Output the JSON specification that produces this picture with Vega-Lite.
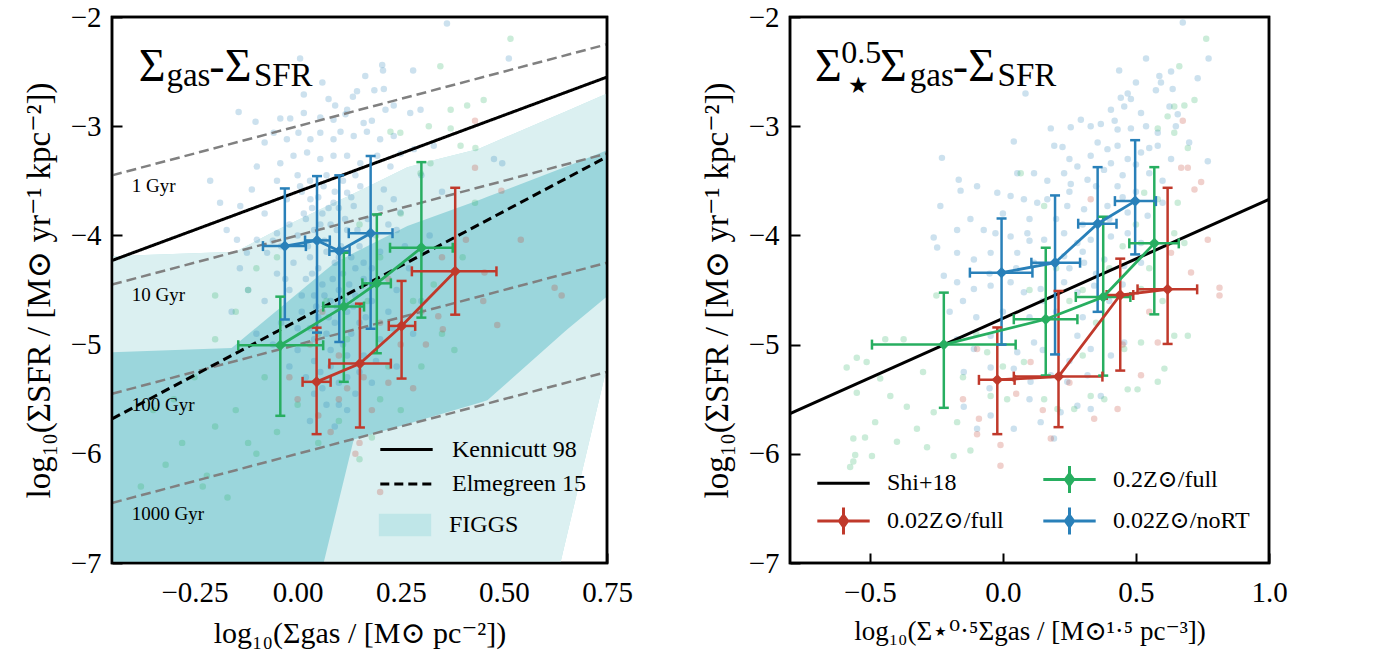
{
"$schema": "https://vega.github.io/schema/vega-lite/v6.json",
"background": "white",
"padding": {"left": 21, "top": 1, "right": 5, "bottom": 5},
"bounds": "flush",
"spacing": 183,
"config": {
  "font": "Liberation Serif",
  "view": {"stroke": "black", "strokeWidth": 2.5},
  "axis": {"domain": false, "grid": false, "tickColor": "black", "tickWidth": 2, "tickSize": -10, "labelFontSize": 29, "labelColor": "black", "labelFont": "Liberation Serif, DejaVu Serif", "titleFont": "Liberation Serif, DejaVu Serif", "titleFontWeight": "normal", "titleColor": "black", "zindex": 1, "labelFlush": false, "labelOverlap": false},
  "axisX": {"labelPadding": 25, "titlePadding": 11, "titleFontSize": 30},
  "axisY": {"labelPadding": 21, "titlePadding": 14, "titleFontSize": 33},
  "legend": {"labelFont": "Liberation Serif, DejaVu Serif", "labelFontSize": 24, "labelColor": "black", "padding": 0}
},
"resolve": {"scale": {"x": "independent", "y": "independent", "color": "independent", "fill": "independent", "strokeDash": "independent"}, "legend": {"color": "independent", "fill": "independent", "strokeDash": "independent"}, "axis": {"x": "independent", "y": "independent"}},
"datasets": {
  "figL": [
    {"x": -0.45, "top": -4.19, "bot": -7}, {"x": -0.15, "top": -4.15, "bot": -7}, {"x": -0.05, "top": -3.95, "bot": -7},
    {"x": 0.05, "top": -3.77, "bot": -7}, {"x": 0.15, "top": -3.59, "bot": -7}, {"x": 0.266, "top": -3.377, "bot": -7},
    {"x": 0.341, "top": -3.30, "bot": -7}, {"x": 0.438, "top": -3.208, "bot": -7}, {"x": 0.637, "top": -2.886, "bot": -7},
    {"x": 0.647, "top": -2.87, "bot": -6.84}, {"x": 0.75, "top": -2.70, "bot": -5.2}
  ],
  "figD": [
    {"x": -0.45, "top": -5.07, "bot": -7}, {"x": -0.16, "top": -5.03, "bot": -7}, {"x": 0.063, "top": -4.334, "bot": -7},
    {"x": 0.09, "top": -4.25, "bot": -6.582}, {"x": 0.136, "top": -4.162, "bot": -5.87}, {"x": 0.266, "top": -3.914, "bot": -5.726},
    {"x": 0.445, "top": -3.668, "bot": -5.527}, {"x": 0.46, "top": -3.646, "bot": -5.51}, {"x": 0.647, "top": -3.377, "bot": -4.883},
    {"x": 0.654, "top": -3.366, "bot": -4.86}, {"x": 0.75, "top": -3.22, "bot": -4.56}
  ],
  "depl": [
    {"t": "1 Gyr", "x": -0.45, "y": -3.45}, {"t": "1 Gyr", "x": 0.75, "y": -2.25},
    {"t": "10 Gyr", "x": -0.45, "y": -4.45}, {"t": "10 Gyr", "x": 0.75, "y": -3.25},
    {"t": "100 Gyr", "x": -0.45, "y": -5.45}, {"t": "100 Gyr", "x": 0.75, "y": -4.25},
    {"t": "1000 Gyr", "x": -0.45, "y": -6.45}, {"t": "1000 Gyr", "x": 0.75, "y": -5.25}
  ],
  "deplLab": [
    {"t": "1 Gyr", "x": -0.402, "y": -3.604}, {"t": "10 Gyr", "x": -0.402, "y": -4.604},
    {"t": "100 Gyr", "x": -0.402, "y": -5.604}, {"t": "1000 Gyr", "x": -0.402, "y": -6.604}
  ],
  "refL": [
    {"name": "Kennicutt 98", "x": -0.45, "y": -4.23}, {"name": "Kennicutt 98", "x": 0.75, "y": -2.55},
    {"name": "Elmegreen 15", "x": -0.45, "y": -5.68}, {"name": "Elmegreen 15", "x": 0.75, "y": -3.28}
  ],
  "shi": [{"x": -0.8, "y": -5.632}, {"x": 1.0, "y": -3.67}],
  "ebL": [
    {"s": "b", "x": -0.031, "y": -4.098, "xlo": -0.084, "xhi": 0.020, "ylo": -4.77, "yhi": -3.57},
    {"s": "b", "x": 0.047, "y": -4.046, "xlo": 0.018, "xhi": 0.078, "ylo": -4.89, "yhi": -3.457},
    {"s": "b", "x": 0.101, "y": -4.143, "xlo": 0.077, "xhi": 0.126, "ylo": -4.976, "yhi": -3.45},
    {"s": "b", "x": 0.177, "y": -3.98, "xlo": 0.124, "xhi": 0.23, "ylo": -4.854, "yhi": -3.274},
    {"s": "g", "x": -0.042, "y": -5.006, "xlo": -0.144, "xhi": 0.062, "ylo": -5.652, "yhi": -4.561},
    {"s": "g", "x": 0.112, "y": -4.652, "xlo": 0.062, "xhi": 0.161, "ylo": -5.341, "yhi": -4.159},
    {"s": "g", "x": 0.192, "y": -4.439, "xlo": 0.157, "xhi": 0.226, "ylo": -5.079, "yhi": -3.808},
    {"s": "g", "x": 0.30, "y": -4.113, "xlo": 0.224, "xhi": 0.376, "ylo": -4.753, "yhi": -3.329},
    {"s": "r", "x": 0.046, "y": -5.341, "xlo": 0.012, "xhi": 0.080, "ylo": -5.82, "yhi": -4.845},
    {"s": "r", "x": 0.151, "y": -5.174, "xlo": 0.077, "xhi": 0.226, "ylo": -5.759, "yhi": -4.625},
    {"s": "r", "x": 0.252, "y": -4.829, "xlo": 0.221, "xhi": 0.285, "ylo": -5.311, "yhi": -4.417},
    {"s": "r", "x": 0.382, "y": -4.329, "xlo": 0.277, "xhi": 0.482, "ylo": -4.726, "yhi": -3.564}
  ],
  "ebR": [
    {"s": "0.02Z⊙/noRT", "x": -0.005, "y": -4.341, "xlo": -0.124, "xhi": 0.111, "ylo": -5.0, "yhi": -3.845},
    {"s": "0.02Z⊙/noRT", "x": 0.196, "y": -4.25, "xlo": 0.107, "xhi": 0.29, "ylo": -5.09, "yhi": -3.634},
    {"s": "0.02Z⊙/noRT", "x": 0.356, "y": -3.893, "xlo": 0.283, "xhi": 0.427, "ylo": -4.70, "yhi": -3.375},
    {"s": "0.02Z⊙/noRT", "x": 0.497, "y": -3.686, "xlo": 0.421, "xhi": 0.575, "ylo": -4.174, "yhi": -3.128},
    {"s": "0.2Z⊙/full", "x": -0.222, "y": -5.0, "xlo": -0.492, "xhi": 0.048, "ylo": -5.579, "yhi": -4.524},
    {"s": "0.2Z⊙/full", "x": 0.161, "y": -4.768, "xlo": 0.041, "xhi": 0.28, "ylo": -5.284, "yhi": -4.113},
    {"s": "0.2Z⊙/full", "x": 0.377, "y": -4.564, "xlo": 0.274, "xhi": 0.479, "ylo": -5.284, "yhi": -3.829},
    {"s": "0.2Z⊙/full", "x": 0.569, "y": -4.073, "xlo": 0.475, "xhi": 0.661, "ylo": -4.723, "yhi": -3.375},
    {"s": "0.02Z⊙/full", "x": -0.021, "y": -5.323, "xlo": -0.09, "xhi": 0.044, "ylo": -5.82, "yhi": -4.843},
    {"s": "0.02Z⊙/full", "x": 0.209, "y": -5.293, "xlo": 0.041, "xhi": 0.374, "ylo": -5.756, "yhi": -4.509},
    {"s": "0.02Z⊙/full", "x": 0.441, "y": -4.546, "xlo": 0.39, "xhi": 0.49, "ylo": -5.238, "yhi": -4.213},
    {"s": "0.02Z⊙/full", "x": 0.619, "y": -4.494, "xlo": 0.506, "xhi": 0.73, "ylo": -4.994, "yhi": -3.564}
  ],
  "ptsL": [
    {"s":"b","x":0.362,"y":-2.06},{"s":"b","x":0.006,"y":-2.38},{"s":"b","x":0.205,"y":-2.44},{"s":"b","x":0.207,"y":-2.49},{"s":"b","x":0.28,"y":-2.49},{"s":"b","x":0.164,"y":-2.54},{"s":"b","x":0.512,"y":-2.38},{"s":"b","x":0.075,"y":-2.75},{"s":"b","x":0.091,"y":-2.81},{"s":"b","x":0.144,"y":-2.68},{"s":"b","x":0.186,"y":-2.67},{"s":"b","x":0.209,"y":-2.66},{"s":"b","x":0.134,"y":-2.73},{"s":"b","x":0.015,"y":-2.71},{"s":"b","x":-0.143,"y":-2.87},{"s":"b","x":-0.102,"y":-2.96},{"s":"b","x":-0.042,"y":-2.93},{"s":"b","x":-0.018,"y":-2.93},{"s":"b","x":0.015,"y":-2.88},{"s":"b","x":0.055,"y":-2.92},{"s":"b","x":0.087,"y":-2.94},{"s":"b","x":0.116,"y":-2.89},{"s":"b","x":0.16,"y":-2.97},{"s":"b","x":0.213,"y":-2.85},{"s":"b","x":0.233,"y":-2.81},{"s":"b","x":0.273,"y":-2.88},{"s":"b","x":0.298,"y":-2.85},{"s":"b","x":-0.058,"y":-3.06},{"s":"b","x":-0.026,"y":-3.12},{"s":"b","x":0.002,"y":-3.06},{"s":"b","x":0.031,"y":-3.12},{"s":"b","x":0.055,"y":-3.06},{"s":"b","x":0.087,"y":-3.12},{"s":"b","x":0.104,"y":-3.05},{"s":"b","x":0.136,"y":-3.09},{"s":"b","x":0.168,"y":-3.05},{"s":"b","x":0.2,"y":-3.12},{"s":"b","x":0.233,"y":-3.09},{"s":"b","x":0.282,"y":-3.21},{"s":"b","x":0.33,"y":-3.18},{"s":"b","x":-0.212,"y":-3.5},{"s":"b","x":-0.188,"y":-3.7},{"s":"b","x":-0.139,"y":-3.73},{"s":"b","x":-0.111,"y":-3.58},{"s":"b","x":-0.099,"y":-3.37},{"s":"b","x":-0.042,"y":-3.34},{"s":"b","x":-0.01,"y":-3.27},{"s":"b","x":0.023,"y":-3.24},{"s":"b","x":0.055,"y":-3.3},{"s":"b","x":0.087,"y":-3.27},{"s":"b","x":0.12,"y":-3.27},{"s":"b","x":0.152,"y":-3.34},{"s":"b","x":0.193,"y":-3.27},{"s":"b","x":0.225,"y":-3.37},{"s":"b","x":0.476,"y":-3.3},{"s":"b","x":0.496,"y":-3.34},{"s":"b","x":-0.172,"y":-3.95},{"s":"b","x":-0.147,"y":-4.04},{"s":"b","x":-0.123,"y":-4.16},{"s":"b","x":-0.099,"y":-4.04},{"s":"b","x":-0.074,"y":-4.16},{"s":"b","x":-0.05,"y":-3.98},{"s":"b","x":-0.026,"y":-3.67},{"s":"b","x":0.006,"y":-3.55},{"s":"b","x":0.031,"y":-3.67},{"s":"b","x":0.063,"y":-3.55},{"s":"b","x":0.087,"y":-3.7},{"s":"b","x":0.12,"y":-3.61},{"s":"b","x":0.136,"y":-3.73},{"s":"b","x":0.152,"y":-3.55},{"s":"b","x":0.209,"y":-3.58},{"s":"b","x":0.233,"y":-3.67},{"s":"b","x":0.249,"y":-3.79},
    {"s":"b","x":0.02,"y":-3.85},{"s":"b","x":0.04,"y":-3.95},{"s":"b","x":0.06,"y":-3.8},{"s":"b","x":0.08,"y":-3.9},{"s":"b","x":0.1,"y":-3.75},{"s":"b","x":0.12,"y":-3.95},{"s":"b","x":0.0,"y":-4.0},{"s":"b","x":0.03,"y":-4.2},{"s":"b","x":0.05,"y":-4.3},{"s":"b","x":0.07,"y":-4.15},{"s":"b","x":0.09,"y":-4.25},{"s":"b","x":0.11,"y":-4.35},{"s":"b","x":0.13,"y":-4.2},{"s":"b","x":0.15,"y":-4.1},{"s":"b","x":0.02,"y":-4.4},{"s":"b","x":0.04,"y":-4.55},{"s":"b","x":0.06,"y":-4.45},{"s":"b","x":0.08,"y":-4.6},{"s":"b","x":0.1,"y":-4.5},{"s":"b","x":0.12,"y":-4.7},{"s":"b","x":0.14,"y":-4.55},{"s":"b","x":0.16,"y":-4.4},{"s":"b","x":0.18,"y":-4.6},{"s":"b","x":0.01,"y":-4.7},{"s":"b","x":0.03,"y":-4.85},{"s":"b","x":0.05,"y":-4.75},{"s":"b","x":0.07,"y":-4.9},{"s":"b","x":0.09,"y":-4.8},{"s":"b","x":0.11,"y":-5.0},{"s":"b","x":0.13,"y":-4.9},{"s":"b","x":0.15,"y":-4.8},{"s":"b","x":-0.02,"y":-4.5},{"s":"b","x":-0.05,"y":-4.35},{"s":"b","x":-0.08,"y":-4.6},{"s":"b","x":0.0,"y":-5.05},{"s":"b","x":0.04,"y":-5.15},{"s":"b","x":0.08,"y":-5.2},{"s":"b","x":0.12,"y":-5.3},{"s":"b","x":0.16,"y":-5.1},{"s":"b","x":0.2,"y":-4.95},{"s":"b","x":0.22,"y":-4.7},{"s":"b","x":0.18,"y":-4.3},{"s":"b","x":0.2,"y":-4.15},{"s":"b","x":0.24,"y":-4.5},{"s":"b","x":-0.04,"y":-4.8},{"s":"b","x":0.06,"y":-5.4},{"s":"b","x":0.1,"y":-5.55},{"s":"b","x":0.14,"y":-5.45},{"s":"b","x":0.02,"y":-5.3},{"s":"b","x":-0.02,"y":-5.2},{"s":"b","x":0.18,"y":-5.35},{"s":"b","x":0.24,"y":-5.2},{"s":"b","x":0.28,"y":-4.9},{"s":"b","x":0.3,"y":-4.6},{"s":"b","x":-0.1,"y":-4.9},{"s":"b","x":-0.12,"y":-4.5},{"s":"b","x":0.03,"y":-5.7},{"s":"b","x":0.09,"y":-5.75},{"s":"b","x":0.01,"y":-3.6},{"s":"b","x":0.035,"y":-3.75},{"s":"b","x":0.065,"y":-4.05},{"s":"b","x":0.085,"y":-4.4},{"s":"b","x":0.105,"y":-4.1},{"s":"b","x":0.125,"y":-4.45},{"s":"b","x":0.045,"y":-4.65},{"s":"b","x":0.075,"y":-4.75},{"s":"b","x":0.095,"y":-3.95},{"s":"b","x":0.115,"y":-4.6},{"s":"b","x":-0.01,"y":-4.25},{"s":"b","x":0.17,"y":-3.85},{"s":"b","x":0.19,"y":-4.0},{"s":"b","x":0.26,"y":-4.1},{"s":"b","x":0.22,"y":-3.9},
    {"s":"b","x":0.0,"y":-3.45},{"s":"b","x":0.03,"y":-3.5},{"s":"b","x":0.07,"y":-3.45},{"s":"b","x":0.11,"y":-3.5},{"s":"b","x":0.14,"y":-3.45},{"s":"b","x":0.05,"y":-3.65},{"s":"b","x":0.09,"y":-3.6},{"s":"b","x":0.13,"y":-3.65},{"s":"b","x":0.015,"y":-3.8},{"s":"b","x":0.055,"y":-3.9},{"s":"b","x":0.075,"y":-3.75},{"s":"b","x":0.115,"y":-3.85},{"s":"b","x":0.145,"y":-3.95},{"s":"b","x":-0.02,"y":-3.9},{"s":"b","x":-0.04,"y":-4.1},{"s":"b","x":0.025,"y":-4.1},{"s":"b","x":0.045,"y":-4.05},{"s":"b","x":0.1,"y":-4.2},{"s":"b","x":0.14,"y":-4.3},{"s":"b","x":0.16,"y":-4.25},{"s":"b","x":-0.03,"y":-4.4},{"s":"b","x":0.01,"y":-4.55},{"s":"b","x":0.035,"y":-4.35},{"s":"b","x":0.065,"y":-4.55},{"s":"b","x":0.095,"y":-4.65},{"s":"b","x":0.135,"y":-4.65},{"s":"b","x":0.165,"y":-4.75},{"s":"b","x":0.0,"y":-4.85},{"s":"b","x":0.04,"y":-4.95},{"s":"b","x":0.08,"y":-5.05},{"s":"b","x":0.12,"y":-5.1},{"s":"b","x":0.055,"y":-5.25},{"s":"b","x":0.1,"y":-5.35},{"s":"b","x":0.15,"y":-5.25},{"s":"b","x":0.19,"y":-5.15},{"s":"b","x":-0.06,"y":-4.05},{"s":"b","x":-0.08,"y":-3.8},{"s":"b","x":-0.14,"y":-4.3},{"s":"b","x":-0.16,"y":-4.7},{"s":"b","x":0.2,"y":-3.75},{"s":"b","x":0.24,"y":-3.95},{"s":"b","x":0.27,"y":-4.3},{"s":"b","x":0.19,"y":-4.45},{"s":"b","x":0.23,"y":-4.85},{"s":"b","x":-0.06,"y":-5.0},{"s":"b","x":0.07,"y":-5.55},{"s":"b","x":0.04,"y":-5.45},{"s":"b","x":0.12,"y":-5.6},{"s":"b","x":-0.05,"y":-3.5},{"s":"b","x":-0.08,"y":-3.15},{"s":"b","x":0.06,"y":-2.6},{"s":"b","x":0.12,"y":-2.85},{"s":"b","x":0.18,"y":-2.95},{"s":"b","x":0.25,"y":-3.25},{"s":"b","x":0.3,"y":-3.45},{"s":"b","x":0.35,"y":-3.6},{"s":"b","x":0.32,"y":-4.0},
    {"s":"g","x":0.516,"y":-2.2},{"s":"g","x":0.346,"y":-2.45},{"s":"g","x":0.451,"y":-2.76},{"s":"g","x":0.411,"y":-2.81},{"s":"g","x":0.371,"y":-2.85},{"s":"g","x":0.371,"y":-3.02},{"s":"g","x":0.395,"y":-3.18},{"s":"g","x":0.431,"y":-3.2},{"s":"g","x":0.318,"y":-3.0},{"s":"g","x":0.249,"y":-3.06},{"s":"g","x":0.225,"y":-3.05},{"s":"g","x":0.298,"y":-3.43},{"s":"g","x":0.322,"y":-3.34},{"s":"g","x":-0.3,"y":-5.5},{"s":"g","x":-0.25,"y":-5.3},{"s":"g","x":-0.2,"y":-4.95},{"s":"g","x":-0.35,"y":-5.6},{"s":"g","x":-0.32,"y":-6.1},{"s":"g","x":-0.28,"y":-5.9},{"s":"g","x":-0.22,"y":-6.2},{"s":"g","x":-0.2,"y":-5.75},{"s":"g","x":-0.15,"y":-5.6},{"s":"g","x":-0.12,"y":-5.9},{"s":"g","x":-0.1,"y":-6.0},{"s":"g","x":-0.05,"y":-5.8},{"s":"g","x":-0.08,"y":-5.3},{"s":"g","x":-0.15,"y":-4.7},{"s":"g","x":-0.12,"y":-4.5},{"s":"g","x":-0.2,"y":-4.55},{"s":"g","x":-0.1,"y":-4.3},{"s":"g","x":0.0,"y":-5.55},{"s":"g","x":0.05,"y":-5.9},{"s":"g","x":0.1,"y":-5.7},{"s":"g","x":0.15,"y":-6.05},{"s":"g","x":0.2,"y":-5.5},{"s":"g","x":0.18,"y":-5.85},{"s":"g","x":0.25,"y":-5.6},{"s":"g","x":0.22,"y":-5.2},{"s":"g","x":0.3,"y":-5.2},{"s":"g","x":0.28,"y":-4.6},{"s":"g","x":0.33,"y":-4.45},{"s":"g","x":0.35,"y":-4.9},{"s":"g","x":0.38,"y":-5.05},{"s":"g","x":0.4,"y":-4.2},{"s":"g","x":0.43,"y":-3.7},{"s":"g","x":0.2,"y":-4.2},{"s":"g","x":0.15,"y":-3.9},{"s":"g","x":0.25,"y":-3.8},{"s":"g","x":0.05,"y":-4.9},{"s":"g","x":-0.05,"y":-4.2},{"s":"g","x":-0.23,"y":-6.3},{"s":"g","x":0.07,"y":-4.6},{"s":"g","x":0.12,"y":-4.95},{"s":"g","x":0.17,"y":-4.6},{"s":"g","x":-0.38,"y":-6.3},{"s":"g","x":-0.17,"y":-6.4},
    {"s":"r","x":0.43,"y":-2.95},{"s":"r","x":0.43,"y":-3.38},{"s":"r","x":0.494,"y":-3.59},{"s":"r","x":0.541,"y":-4.04},{"s":"r","x":0.623,"y":-4.48},{"s":"r","x":0.64,"y":-4.55},{"s":"r","x":0.484,"y":-4.82},{"s":"r","x":0.453,"y":-4.34},{"s":"r","x":0.408,"y":-4.04},{"s":"r","x":0.341,"y":-4.74},{"s":"r","x":0.352,"y":-4.86},{"s":"r","x":0.311,"y":-5.0},{"s":"r","x":0.05,"y":-5.65},{"s":"r","x":0.0,"y":-5.5},{"s":"r","x":0.08,"y":-5.8},{"s":"r","x":0.12,"y":-5.4},{"s":"r","x":0.15,"y":-5.9},{"s":"r","x":0.18,"y":-5.6},{"s":"r","x":0.1,"y":-5.1},{"s":"r","x":0.03,"y":-5.0},{"s":"r","x":0.22,"y":-5.35},{"s":"r","x":0.25,"y":-5.0},{"s":"r","x":0.2,"y":-4.8},{"s":"r","x":0.3,"y":-4.7},{"s":"r","x":0.28,"y":-5.4},{"s":"r","x":0.14,"y":-6.0},{"s":"r","x":0.06,"y":-4.7},{"s":"r","x":0.22,"y":-4.4},{"s":"r","x":-0.02,"y":-5.3},{"s":"r","x":0.2,"y":-6.35},{"s":"r","x":0.35,"y":-4.2},{"s":"r","x":0.45,"y":-4.6},{"s":"r","x":0.1,"y":-5.5},{"s":"r","x":0.16,"y":-5.3}
  ],
  "ptsR": [
    {"s":"b","x":0.676,"y":-2.05},{"s":"b","x":0.538,"y":-2.38},{"s":"b","x":0.437,"y":-2.49},{"s":"b","x":0.588,"y":-2.54},{"s":"b","x":0.632,"y":-2.5},{"s":"b","x":0.732,"y":-2.56},{"s":"b","x":0.773,"y":-2.38},{"s":"b","x":0.575,"y":-2.67},{"s":"b","x":0.638,"y":-2.66},{"s":"b","x":0.594,"y":-2.6},{"s":"b","x":0.469,"y":-2.7},{"s":"b","x":0.443,"y":-2.74},{"s":"b","x":0.481,"y":-2.75},{"s":"b","x":0.085,"y":-2.7},{"s":"b","x":0.406,"y":-2.85},{"s":"b","x":0.456,"y":-2.82},{"s":"b","x":0.519,"y":-2.88},{"s":"b","x":0.626,"y":-2.82},{"s":"b","x":0.657,"y":-2.89},{"s":"b","x":0.293,"y":-2.94},{"s":"b","x":0.255,"y":-3.01},{"s":"b","x":0.33,"y":-3.0},{"s":"b","x":0.368,"y":-2.98},{"s":"b","x":0.431,"y":-3.03},{"s":"b","x":0.481,"y":-3.02},{"s":"b","x":0.538,"y":-3.0},{"s":"b","x":0.582,"y":-3.06},{"s":"b","x":0.18,"y":-3.02},{"s":"b","x":0.193,"y":-3.18},{"s":"b","x":0.224,"y":-3.19},{"s":"b","x":0.356,"y":-3.15},{"s":"b","x":0.393,"y":-3.21},{"s":"b","x":0.431,"y":-3.18},{"s":"b","x":0.519,"y":-3.24},{"s":"b","x":0.582,"y":-3.18},{"s":"b","x":0.632,"y":-3.3},{"s":"b","x":0.77,"y":-3.32},{"s":"b","x":0.041,"y":-3.14},{"s":"b","x":-0.229,"y":-3.29},{"s":"b","x":0.33,"y":-3.27},{"s":"b","x":0.406,"y":-3.34},{"s":"b","x":0.469,"y":-3.3},{"s":"b","x":0.55,"y":-3.43},{"s":"b","x":0.28,"y":-3.37},{"s":"b","x":0.23,"y":-3.43},{"s":"b","x":0.117,"y":-3.43},{"s":"b","x":0.054,"y":-3.43},{"s":"b","x":0.167,"y":-3.5},{"s":"b","x":0.255,"y":-3.53},{"s":"b","x":0.318,"y":-3.49},{"s":"b","x":0.431,"y":-3.55},{"s":"b","x":-0.166,"y":-3.49},{"s":"b","x":-0.159,"y":-3.59},{"s":"b","x":-0.097,"y":-3.55},{"s":"b","x":-0.021,"y":-3.61},{"s":"b","x":0.029,"y":-3.64},{"s":"b","x":0.079,"y":-3.67},{"s":"b","x":0.129,"y":-3.7},{"s":"b","x":0.167,"y":-3.67},{"s":"b","x":0.242,"y":-3.73},{"s":"b","x":0.305,"y":-3.76},{"s":"b","x":0.393,"y":-3.73},{"s":"b","x":0.469,"y":-3.79},{"s":"b","x":0.544,"y":-3.82},{"s":"b","x":-0.235,"y":-3.73},{"s":"b","x":-0.172,"y":-3.95},{"s":"b","x":-0.122,"y":-3.85},{"s":"b","x":-0.072,"y":-3.95},{"s":"b","x":-0.028,"y":-3.98},{"s":"b","x":0.029,"y":-4.01},{"s":"b","x":0.092,"y":-3.98},{"s":"b","x":0.155,"y":-4.04},{"s":"b","x":0.23,"y":-3.98},{"s":"b","x":0.28,"y":-4.07},{"s":"b","x":0.33,"y":-4.04},{"s":"b","x":0.406,"y":-4.01},{"s":"b","x":0.469,"y":-3.98},{"s":"b","x":0.519,"y":-4.07},{"s":"b","x":-0.26,"y":-4.02},{"s":"b","x":-0.247,"y":-4.11},{"s":"b","x":-0.172,"y":-4.16},{"s":"b","x":-0.109,"y":-4.22},{"s":"b","x":-0.046,"y":-4.16},{"s":"b","x":0.054,"y":-4.16},{"s":"b","x":0.117,"y":-4.25},{"s":"b","x":0.23,"y":-4.19},{"s":"b","x":0.305,"y":-4.25},{"s":"b","x":0.381,"y":-4.22},{"s":"b","x":0.456,"y":-4.28},{"s":"b","x":0.519,"y":-4.25},{"s":"b","x":-0.222,"y":-4.37},{"s":"b","x":-0.172,"y":-4.43},{"s":"b","x":-0.109,"y":-4.49},{"s":"b","x":-0.046,"y":-4.46},{"s":"b","x":0.029,"y":-4.43},{"s":"b","x":0.079,"y":-4.52},{"s":"b","x":0.142,"y":-4.49},{"s":"b","x":0.23,"y":-4.43},{"s":"b","x":0.28,"y":-4.52},{"s":"b","x":0.343,"y":-4.46},{"s":"b","x":-0.172,"y":-4.95},{"s":"b","x":-0.109,"y":-5.04},{"s":"b","x":-0.046,"y":-4.92},{"s":"b","x":0.054,"y":-5.07},{"s":"b","x":0.117,"y":-4.98},{"s":"b","x":0.28,"y":-4.92},{"s":"b","x":0.33,"y":-5.04},{"s":"b","x":0.406,"y":-5.1},{"s":"b","x":0.456,"y":-4.98},{"s":"b","x":-0.147,"y":-5.25},{"s":"b","x":-0.046,"y":-5.21},{"s":"b","x":0.041,"y":-5.22},{"s":"b","x":0.104,"y":-5.34},{"s":"b","x":0.18,"y":-5.28},{"s":"b","x":0.242,"y":-5.34},{"s":"b","x":0.318,"y":-5.28},{"s":"b","x":0.368,"y":-5.47},{"s":"b","x":-0.147,"y":-5.57},{"s":"b","x":-0.097,"y":-5.77},{"s":"b","x":-0.046,"y":-5.65},{"s":"b","x":0.041,"y":-5.77},{"s":"b","x":0.142,"y":-5.71},{"s":"b","x":0.217,"y":-5.62},{"s":"b","x":0.28,"y":-5.56},{"s":"b","x":0.33,"y":-5.59},{"s":"b","x":0.192,"y":-5.86},{"s":"b","x":-0.2,"y":-4.7},{"s":"b","x":-0.1,"y":-4.75},{"s":"b","x":0.0,"y":-4.7},{"s":"b","x":0.1,"y":-4.75},{"s":"b","x":0.2,"y":-4.7},{"s":"b","x":0.3,"y":-4.75},{"s":"b","x":0.4,"y":-4.6},{"s":"b","x":0.35,"y":-3.55},{"s":"b","x":0.25,"y":-3.3},{"s":"b","x":0.45,"y":-3.45},{"s":"b","x":0.5,"y":-3.6},{"s":"b","x":0.6,"y":-3.5},
    {"s":"b","x":0.1,"y":-3.85},{"s":"b","x":0.2,"y":-3.85},{"s":"b","x":0.3,"y":-3.9},{"s":"b","x":0.4,"y":-3.85},{"s":"b","x":0.45,"y":-3.65},{"s":"b","x":0.38,"y":-3.4},{"s":"b","x":0.5,"y":-3.35},{"s":"b","x":0.55,"y":-3.2},{"s":"b","x":0.6,"y":-3.7},{"s":"b","x":0.15,"y":-4.6},{"s":"b","x":0.25,"y":-4.3},{"s":"b","x":0.35,"y":-4.35},{"s":"b","x":0.45,"y":-4.45},{"s":"b","x":-0.05,"y":-4.35},{"s":"b","x":0.05,"y":-4.3},{"s":"b","x":-0.15,"y":-4.6},{"s":"b","x":0.1,"y":-4.05},{"s":"b","x":0.2,"y":-4.55},{"s":"b","x":0.3,"y":-4.15},{"s":"b","x":0.0,"y":-3.8},{"s":"b","x":0.25,"y":-3.6},{"s":"b","x":0.42,"y":-2.95},{"s":"b","x":0.5,"y":-2.6},{"s":"b","x":0.65,"y":-3.0},{"s":"b","x":0.7,"y":-3.15},{"s":"b","x":-0.05,"y":-5.4},{"s":"b","x":0.1,"y":-5.5},{"s":"b","x":0.25,"y":-5.15},{"s":"b","x":0.15,"y":-5.05},
    {"s":"g","x":0.764,"y":-2.2},{"s":"g","x":0.663,"y":-2.45},{"s":"g","x":0.72,"y":-2.76},{"s":"g","x":0.644,"y":-2.82},{"s":"g","x":0.682,"y":-2.81},{"s":"g","x":0.619,"y":-2.91},{"s":"g","x":0.582,"y":-3.02},{"s":"g","x":0.644,"y":-3.06},{"s":"g","x":0.695,"y":-3.2},{"s":"g","x":-0.587,"y":-5.21},{"s":"g","x":-0.549,"y":-5.12},{"s":"g","x":-0.512,"y":-5.16},{"s":"g","x":-0.442,"y":-4.95},{"s":"g","x":-0.373,"y":-4.95},{"s":"g","x":-0.549,"y":-5.44},{"s":"g","x":-0.461,"y":-5.31},{"s":"g","x":-0.423,"y":-5.47},{"s":"g","x":-0.361,"y":-5.57},{"s":"g","x":-0.48,"y":-5.71},{"s":"g","x":-0.562,"y":-5.86},{"s":"g","x":-0.518,"y":-5.85},{"s":"g","x":-0.555,"y":-6.01},{"s":"g","x":-0.562,"y":-6.07},{"s":"g","x":-0.574,"y":-6.12},{"s":"g","x":-0.492,"y":-6.02},{"s":"g","x":-0.398,"y":-5.89},{"s":"g","x":-0.285,"y":-5.94},{"s":"g","x":-0.323,"y":-5.77},{"s":"g","x":-0.26,"y":-5.62},{"s":"g","x":-0.185,"y":-6.02},{"s":"g","x":-0.122,"y":-5.97},{"s":"g","x":-0.172,"y":-5.71},{"s":"g","x":-0.046,"y":-5.47},{"s":"g","x":0.016,"y":-5.5},{"s":"g","x":0.155,"y":-5.5},{"s":"g","x":0.205,"y":-5.59},{"s":"g","x":0.268,"y":-5.59},{"s":"g","x":0.33,"y":-5.47},{"s":"g","x":0.381,"y":-5.5},{"s":"g","x":0.469,"y":-5.41},{"s":"g","x":0.506,"y":-5.41},{"s":"g","x":0.582,"y":-5.34},{"s":"g","x":0.607,"y":-5.22},{"s":"g","x":0.695,"y":-4.92},{"s":"g","x":0.644,"y":-4.92},{"s":"g","x":0.519,"y":-4.98},{"s":"g","x":0.456,"y":-5.04},{"s":"g","x":0.079,"y":-5.16},{"s":"g","x":-0.059,"y":-5.07},{"s":"g","x":0.155,"y":-3.73},{"s":"g","x":0.067,"y":-3.43},{"s":"g","x":0.531,"y":-3.61},{"s":"g","x":0.582,"y":-3.67},{"s":"g","x":0.657,"y":-3.7},{"s":"g","x":0.519,"y":-4.49},{"s":"g","x":0.644,"y":-3.98},{"s":"g","x":0.682,"y":-4.07},{"s":"g","x":-0.3,"y":-5.25},{"s":"g","x":-0.15,"y":-5.3},{"s":"g","x":0.3,"y":-5.1},{"s":"g","x":0.25,"y":-4.6},{"s":"g","x":0.4,"y":-4.3},{"s":"g","x":-0.25,"y":-4.55},{"s":"g","x":0.2,"y":-4.3},{"s":"g","x":0.3,"y":-4.5},{"s":"g","x":0.45,"y":-4.1},{"s":"g","x":0.55,"y":-4.3},{"s":"g","x":0.6,"y":-4.6},{"s":"g","x":0.35,"y":-4.8},{"s":"g","x":0.1,"y":-4.5},{"s":"g","x":-0.1,"y":-4.9},{"s":"g","x":0.0,"y":-5.2},{"s":"g","x":0.5,"y":-3.9},
    {"s":"r","x":0.676,"y":-2.95},{"s":"r","x":0.67,"y":-3.38},{"s":"r","x":0.695,"y":-3.38},{"s":"r","x":0.72,"y":-3.58},{"s":"r","x":0.745,"y":-3.51},{"s":"r","x":0.77,"y":-4.04},{"s":"r","x":0.814,"y":-4.48},{"s":"r","x":0.814,"y":-4.55},{"s":"r","x":0.707,"y":-4.34},{"s":"r","x":0.632,"y":-4.16},{"s":"r","x":0.33,"y":-3.67},{"s":"r","x":-0.097,"y":-5.04},{"s":"r","x":-0.09,"y":-5.68},{"s":"r","x":-0.097,"y":-5.82},{"s":"r","x":-0.009,"y":-5.92},{"s":"r","x":-0.009,"y":-6.11},{"s":"r","x":0.104,"y":-5.16},{"s":"r","x":0.18,"y":-5.86},{"s":"r","x":0.343,"y":-5.68},{"s":"r","x":0.431,"y":-5.59},{"s":"r","x":0.519,"y":-5.28},{"s":"r","x":0.582,"y":-4.98},{"s":"r","x":0.05,"y":-5.45},{"s":"r","x":0.15,"y":-5.6},{"s":"r","x":0.25,"y":-5.35},{"s":"r","x":0.45,"y":-5.0},{"s":"r","x":0.55,"y":-4.7},{"s":"r","x":-0.15,"y":-5.5}
  ]
},
"hconcat": [
  {
    "width": 495, "height": 546,
    "layer": [
      {"data": {"name": "figL"}, "mark": {"type": "area", "orient": "vertical"},
       "encoding": {
         "x": {"field": "x", "type": "quantitative", "scale": {"domain": [-0.45, 0.75], "nice": false, "zero": false},
               "axis": {"values": [-0.25, 0, 0.25, 0.5, 0.75], "format": ".2f", "title": "log₁₀(Σgas / [M⊙ pc⁻²])"}},
         "y": {"field": "top", "type": "quantitative", "scale": {"domain": [-7, -2], "nice": false, "zero": false},
               "axis": {"values": [-7, -6, -5, -4, -3, -2], "format": "d", "title": "log₁₀(ΣSFR / [M⊙ yr⁻¹ kpc⁻²])"}},
         "y2": {"field": "bot"},
         "fill": {"datum": "FIGGS", "type": "nominal", "title": null, "scale": {"domain": ["FIGGS"], "range": ["#bfe6e8"]},
                  "legend": {"orient": "none", "legendX": 274, "legendY": 489, "title": null, "symbolType": "M-1.4,-0.6H1.4V0.6H-1.4Z", "symbolSize": 1400, "symbolStrokeWidth": 0, "symbolFillColor": "#bfe6e8", "symbolOpacity": 1, "labelOffset": 25,
                             "encode": {"symbols": {"update": {"fill": {"value": "#bfe6e8"}, "fillOpacity": {"value": 1}, "opacity": {"value": 1}}}}}}
       }},
      {"data": {"name": "figL"}, "mark": {"type": "area", "orient": "vertical", "color": "#dbf0f1"},
       "encoding": {"x": {"field": "x", "type": "quantitative"}, "y": {"field": "top", "type": "quantitative"}, "y2": {"field": "bot"}}},
      {"data": {"name": "figD"}, "mark": {"type": "area", "orient": "vertical", "color": "#9bd6dc"},
       "encoding": {"x": {"field": "x", "type": "quantitative"}, "y": {"field": "top", "type": "quantitative"}, "y2": {"field": "bot"}}},
      {"data": {"name": "ptsL"}, "mark": {"type": "circle", "size": 42, "opacity": 0.24},
       "encoding": {"x": {"field": "x", "type": "quantitative"}, "y": {"field": "y", "type": "quantitative"},
                    "color": {"field": "s", "type": "nominal", "scale": {"domain": ["b", "g", "r"], "range": ["#2980b9", "#27ae60", "#c0392b"]}, "legend": null}}},
      {"data": {"name": "depl"}, "mark": {"type": "line", "color": "#808080", "strokeWidth": 2.5, "strokeDash": [10, 5]},
       "encoding": {"x": {"field": "x", "type": "quantitative"}, "y": {"field": "y", "type": "quantitative"}, "detail": {"field": "t"}}},
      {"data": {"name": "refL"}, "mark": {"type": "line", "color": "black", "strokeWidth": 3},
       "encoding": {"x": {"field": "x", "type": "quantitative"}, "y": {"field": "y", "type": "quantitative"},
                    "strokeDash": {"field": "name", "type": "nominal", "title": null, "scale": {"domain": ["Kennicutt 98", "Elmegreen 15"], "range": [[1, 0], [9, 5]]},
                                   "legend": {"orient": "none", "legendX": 274, "legendY": 412, "title": null, "symbolType": "M-1.4,0H1.4", "symbolSize": 1400, "symbolStrokeWidth": 3, "symbolStrokeColor": "black", "labelOffset": 25, "rowPadding": 1.5}}}},
      {"data": {"name": "deplLab"}, "mark": {"type": "text", "align": "left", "baseline": "alphabetic", "fontSize": 19, "color": "black"},
       "encoding": {"x": {"field": "x", "type": "quantitative"}, "y": {"field": "y", "type": "quantitative"}, "text": {"field": "t"}}},
      {"data": {"name": "ebL"}, "mark": {"type": "rule", "strokeWidth": 2.5},
       "encoding": {"x": {"field": "x", "type": "quantitative"}, "y": {"field": "ylo", "type": "quantitative"}, "y2": {"field": "yhi"}, "color": {"field": "s", "type": "nominal", "legend": null}}},
      {"data": {"name": "ebL"}, "mark": {"type": "rule", "strokeWidth": 2.5},
       "encoding": {"x": {"field": "xlo", "type": "quantitative"}, "x2": {"field": "xhi"}, "y": {"field": "y", "type": "quantitative"}, "color": {"field": "s", "type": "nominal", "legend": null}}},
      {"data": {"name": "ebL"}, "mark": {"type": "tick", "orient": "horizontal", "size": 10, "thickness": 2.5, "opacity": 1},
       "encoding": {"x": {"field": "x", "type": "quantitative"}, "y": {"field": "ylo", "type": "quantitative"}, "color": {"field": "s", "type": "nominal", "legend": null}}},
      {"data": {"name": "ebL"}, "mark": {"type": "tick", "orient": "horizontal", "size": 10, "thickness": 2.5, "opacity": 1},
       "encoding": {"x": {"field": "x", "type": "quantitative"}, "y": {"field": "yhi", "type": "quantitative"}, "color": {"field": "s", "type": "nominal", "legend": null}}},
      {"data": {"name": "ebL"}, "mark": {"type": "tick", "orient": "vertical", "size": 10, "thickness": 2.5, "opacity": 1},
       "encoding": {"x": {"field": "xlo", "type": "quantitative"}, "y": {"field": "y", "type": "quantitative"}, "color": {"field": "s", "type": "nominal", "legend": null}}},
      {"data": {"name": "ebL"}, "mark": {"type": "tick", "orient": "vertical", "size": 10, "thickness": 2.5, "opacity": 1},
       "encoding": {"x": {"field": "xhi", "type": "quantitative"}, "y": {"field": "y", "type": "quantitative"}, "color": {"field": "s", "type": "nominal", "legend": null}}},
      {"data": {"name": "ebL"}, "mark": {"type": "line", "strokeWidth": 2.8},
       "encoding": {"x": {"field": "x", "type": "quantitative"}, "y": {"field": "y", "type": "quantitative"}, "color": {"field": "s", "type": "nominal", "legend": null}}},
      {"data": {"name": "ebL"}, "mark": {"type": "point", "shape": "diamond", "filled": true, "size": 130, "opacity": 1},
       "encoding": {"x": {"field": "x", "type": "quantitative"}, "y": {"field": "y", "type": "quantitative"}, "color": {"field": "s", "type": "nominal", "legend": null}}},
      {"data": {"values": [{}]}, "mark": {"type": "text", "align": "left", "baseline": "alphabetic", "fontSize": 46, "color": "black", "font": "Liberation Serif, DejaVu Serif"},
       "encoding": {"x": {"datum": -0.385}, "y": {"datum": -2.582}, "text": {"value": "Σ"}}},
      {"data": {"values": [{}]}, "mark": {"type": "text", "align": "left", "baseline": "alphabetic", "fontSize": 33, "color": "black", "font": "Liberation Serif, DejaVu Serif"},
       "encoding": {"x": {"datum": -0.318}, "y": {"datum": -2.636}, "text": {"value": "gas"}}},
      {"data": {"values": [{}]}, "mark": {"type": "text", "align": "left", "baseline": "alphabetic", "fontSize": 46, "color": "black", "font": "Liberation Serif, DejaVu Serif"},
       "encoding": {"x": {"datum": -0.214}, "y": {"datum": -2.582}, "text": {"value": "-Σ"}}},
      {"data": {"values": [{}]}, "mark": {"type": "text", "align": "left", "baseline": "alphabetic", "fontSize": 33, "color": "black", "font": "Liberation Serif, DejaVu Serif"},
       "encoding": {"x": {"datum": -0.106}, "y": {"datum": -2.636}, "text": {"value": "SFR"}}},
      {"data": {"values": [{}]}, "mark": {"type": "rect", "fillOpacity": 0, "stroke": "black", "strokeWidth": 2.5},
       "encoding": {"x": {"datum": -0.45}, "x2": {"datum": 0.75}, "y": {"datum": -7}, "y2": {"datum": -2}}}
    ]
  },
  {
    "width": 479, "height": 546,
    "layer": [
      {"data": {"name": "ptsR"}, "mark": {"type": "circle", "size": 42, "opacity": 0.24},
       "encoding": {
         "x": {"field": "x", "type": "quantitative", "scale": {"domain": [-0.8, 1.0], "nice": false, "zero": false},
               "axis": {"values": [-0.5, 0, 0.5, 1.0], "format": ".1f", "title": "log₁₀(Σ⋆⁰·⁵Σgas / [M⊙¹·⁵ pc⁻³])", "titleFontSize": 27}},
         "y": {"field": "y", "type": "quantitative", "scale": {"domain": [-7, -2], "nice": false, "zero": false},
               "axis": {"values": [-7, -6, -5, -4, -3, -2], "format": "d", "title": "log₁₀(ΣSFR / [M⊙ yr⁻¹ kpc⁻²])"}},
         "fill": {"field": "s", "type": "nominal", "scale": {"domain": ["b", "g", "r"], "range": ["#2980b9", "#27ae60", "#c0392b"]}, "legend": null}
       }},
      {"data": {"name": "shi"}, "mark": {"type": "line", "strokeWidth": 3},
       "encoding": {"x": {"field": "x", "type": "quantitative"}, "y": {"field": "y", "type": "quantitative"},
                    "color": {"datum": "Shi+18", "type": "nominal", "title": null,
                              "scale": {"domain": ["Shi+18", "0.02Z⊙/full", "0.2Z⊙/full", "0.02Z⊙/noRT"], "range": ["black", "#c0392b", "#27ae60", "#2980b9"]},
                              "legend": {"orient": "none", "legendX": 33, "legendY": 442, "title": null, "columns": 2, "columnPadding": 33, "rowPadding": 1.5,
                                         "symbolType": "M-1.4,0H1.4", "symbolSize": 1400, "symbolStrokeWidth": 3, "labelOffset": 23,
                                         "encode": {"symbols": {"update": {
                                           "shape": [{"test": "datum.value === 'Shi+18'", "value": "M-1.4,0H1.4"}, {"value": "M-1.4,0H1.4M0,-0.72V0.72M0,-0.3L0.22,0L0,0.3L-0.22,0Z"}],
                                           "fill": [{"test": "datum.value === '0.2Z⊙/full'", "value": "#27ae60"}, {"test": "datum.value === '0.02Z⊙/full'", "value": "#c0392b"}, {"test": "datum.value === '0.02Z⊙/noRT'", "value": "#2980b9"}, {"value": "transparent"}],
                                           "opacity": {"value": 1}}}}}}}},
      {"data": {"name": "ebR"}, "mark": {"type": "rule", "strokeWidth": 2.5},
       "encoding": {"x": {"field": "x", "type": "quantitative"}, "y": {"field": "ylo", "type": "quantitative"}, "y2": {"field": "yhi"}, "color": {"field": "s", "type": "nominal", "title": null}}},
      {"data": {"name": "ebR"}, "mark": {"type": "rule", "strokeWidth": 2.5},
       "encoding": {"x": {"field": "xlo", "type": "quantitative"}, "x2": {"field": "xhi"}, "y": {"field": "y", "type": "quantitative"}, "color": {"field": "s", "type": "nominal", "title": null}}},
      {"data": {"name": "ebR"}, "mark": {"type": "tick", "orient": "horizontal", "size": 10, "thickness": 2.5, "opacity": 1},
       "encoding": {"x": {"field": "x", "type": "quantitative"}, "y": {"field": "ylo", "type": "quantitative"}, "color": {"field": "s", "type": "nominal", "title": null}}},
      {"data": {"name": "ebR"}, "mark": {"type": "tick", "orient": "horizontal", "size": 10, "thickness": 2.5, "opacity": 1},
       "encoding": {"x": {"field": "x", "type": "quantitative"}, "y": {"field": "yhi", "type": "quantitative"}, "color": {"field": "s", "type": "nominal", "title": null}}},
      {"data": {"name": "ebR"}, "mark": {"type": "tick", "orient": "vertical", "size": 10, "thickness": 2.5, "opacity": 1},
       "encoding": {"x": {"field": "xlo", "type": "quantitative"}, "y": {"field": "y", "type": "quantitative"}, "color": {"field": "s", "type": "nominal", "title": null}}},
      {"data": {"name": "ebR"}, "mark": {"type": "tick", "orient": "vertical", "size": 10, "thickness": 2.5, "opacity": 1},
       "encoding": {"x": {"field": "xhi", "type": "quantitative"}, "y": {"field": "y", "type": "quantitative"}, "color": {"field": "s", "type": "nominal", "title": null}}},
      {"data": {"name": "ebR"}, "mark": {"type": "line", "strokeWidth": 2.8},
       "encoding": {"x": {"field": "x", "type": "quantitative"}, "y": {"field": "y", "type": "quantitative"}, "color": {"field": "s", "type": "nominal", "title": null}}},
      {"data": {"name": "ebR"}, "mark": {"type": "point", "shape": "diamond", "filled": true, "size": 130, "opacity": 1},
       "encoding": {"x": {"field": "x", "type": "quantitative"}, "y": {"field": "y", "type": "quantitative"}, "color": {"field": "s", "type": "nominal", "title": null}}},
      {"data": {"values": [{}]}, "mark": {"type": "text", "align": "left", "baseline": "alphabetic", "fontSize": 46, "color": "black", "font": "Liberation Serif, DejaVu Serif"},
       "encoding": {"x": {"datum": -0.706}, "y": {"datum": -2.582}, "text": {"value": "Σ"}}},
      {"data": {"values": [{}]}, "mark": {"type": "text", "align": "left", "baseline": "alphabetic", "fontSize": 32, "color": "black", "font": "Liberation Serif, DejaVu Serif"},
       "encoding": {"x": {"datum": -0.607}, "y": {"datum": -2.42}, "text": {"value": "0.5"}}},
      {"data": {"values": [{}]}, "mark": {"type": "text", "align": "left", "baseline": "alphabetic", "fontSize": 23, "color": "black", "font": "DejaVu Sans"},
       "encoding": {"x": {"datum": -0.582}, "y": {"datum": -2.70}, "text": {"value": "★"}}},
      {"data": {"values": [{}]}, "mark": {"type": "text", "align": "left", "baseline": "alphabetic", "fontSize": 46, "color": "black", "font": "Liberation Serif, DejaVu Serif"},
       "encoding": {"x": {"datum": -0.462}, "y": {"datum": -2.582}, "text": {"value": "Σ"}}},
      {"data": {"values": [{}]}, "mark": {"type": "text", "align": "left", "baseline": "alphabetic", "fontSize": 33, "color": "black", "font": "Liberation Serif, DejaVu Serif"},
       "encoding": {"x": {"datum": -0.35}, "y": {"datum": -2.636}, "text": {"value": "gas"}}},
      {"data": {"values": [{}]}, "mark": {"type": "text", "align": "left", "baseline": "alphabetic", "fontSize": 46, "color": "black", "font": "Liberation Serif, DejaVu Serif"},
       "encoding": {"x": {"datum": -0.188}, "y": {"datum": -2.582}, "text": {"value": "-Σ"}}},
      {"data": {"values": [{}]}, "mark": {"type": "text", "align": "left", "baseline": "alphabetic", "fontSize": 33, "color": "black", "font": "Liberation Serif, DejaVu Serif"},
       "encoding": {"x": {"datum": -0.02}, "y": {"datum": -2.636}, "text": {"value": "SFR"}}},
      {"data": {"values": [{}]}, "mark": {"type": "rect", "fillOpacity": 0, "stroke": "black", "strokeWidth": 2.5},
       "encoding": {"x": {"datum": -0.8}, "x2": {"datum": 1.0}, "y": {"datum": -7}, "y2": {"datum": -2}}}
    ]
  }
]
}
